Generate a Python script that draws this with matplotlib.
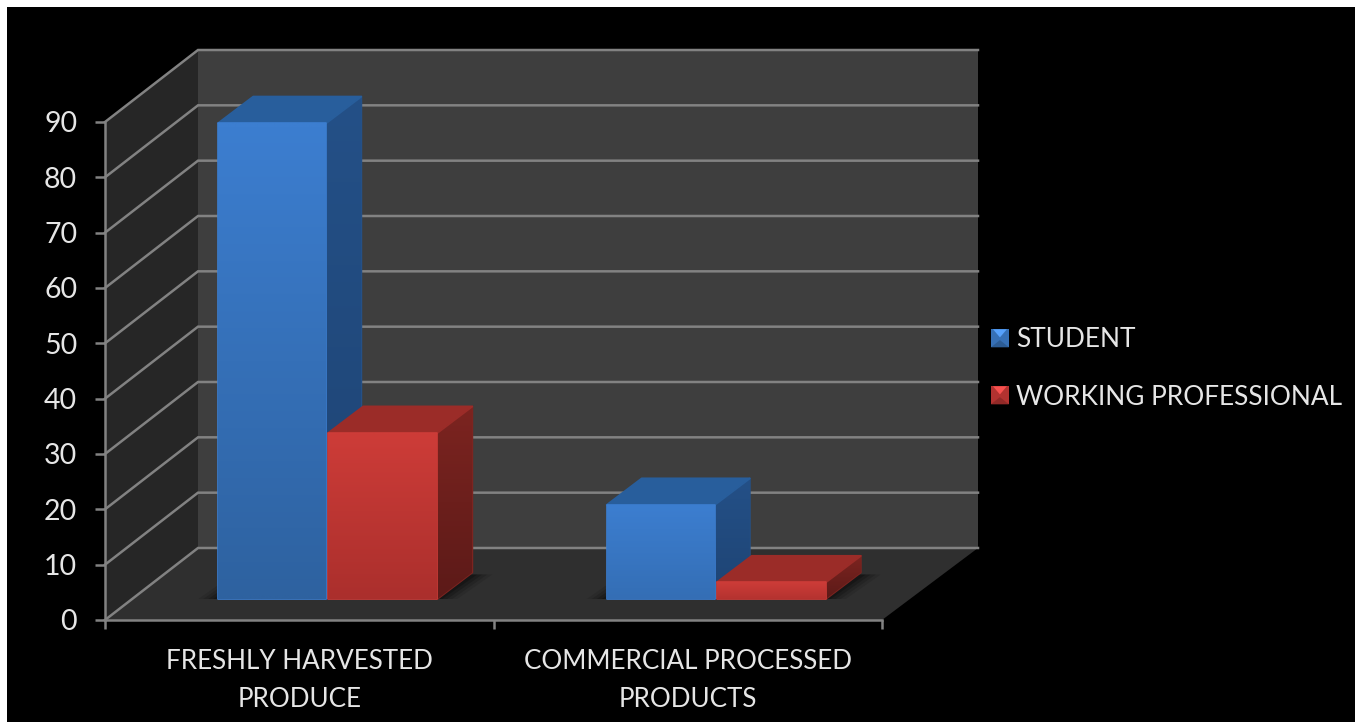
import matplotlib
matplotlib.use("Agg")
import matplotlib.pyplot as plt
import numpy as np
from matplotlib.patches import Polygon, Rectangle
from matplotlib.legend_handler import HandlerBase

categories = ["FRESHLY HARVESTED\nPRODUCE", "COMMERCIAL PROCESSED\nPRODUCTS"]
student = [86, 17]
working_professional = [30, 3]
series_names = ["STUDENT", "WORKING PROFESSIONAL"]
value_ticks = list(range(0, 100, 10))

W, H = 1361, 722
FONT = "Lato"
TEXT = "#e6e6e6"
GRID = "#828282"
plt.rcParams["font.family"] = FONT

fig = plt.figure(figsize=(W / 100, H / 100), dpi=100, facecolor="white")
fig.patches.append(Rectangle((7 / W, 0), (1355 - 7) / W, (H - 7) / H, transform=fig.transFigure,
                             facecolor="black", edgecolor="none", zorder=-10))

# front plane of the chart: x 105..882, value 0 at y=620, value 90 at y=122
L, R, Y0, Y90 = 105, 882, 620, 122
ax = fig.add_axes([L / W, 1 - Y0 / H, (R - L) / W, (Y0 - Y90) / H], facecolor="none")
ax.set_xlim(0, 2)
ax.set_ylim(0, 90)
px_x = 2 / (R - L)          # category units per pixel
px_y = 90 / (Y0 - Y90)      # value units per pixel


def depth(x, y, dx_px, dy_px):
    return (x + dx_px * px_x, y + dy_px * px_y)


WALL_DXL, WALL_DXR, WALL_DY = 93, 96, 72


def poly(verts, color, z, **kw):
    p = Polygon(verts, closed=True, facecolor=color, edgecolor=kw.pop("edgecolor", "none"),
                zorder=z, clip_on=False, **kw)
    ax.add_patch(p)
    return p


def grad_poly(verts, top, bottom, z):
    """Fill a polygon with a vertical linear gradient."""
    verts = np.array(verts)
    x0, x1 = verts[:, 0].min(), verts[:, 0].max()
    y0, y1 = verts[:, 1].min(), verts[:, 1].max()
    t = np.linspace(0, 1, 64)[:, None]
    img = (1 - t) * np.array(top) + t * np.array(bottom)
    img = img[:, None, :]
    im = ax.imshow(img / 255, extent=(x0, x1, y0, y1), origin="upper", aspect="auto",
                   zorder=z, interpolation="bilinear")
    clip = Polygon(verts, closed=True, transform=ax.transData, facecolor="none", edgecolor="none")
    im.set_clip_path(clip)
    im.set_clip_box(fig.bbox)
    return im


# walls and floor
poly([(0, 0), depth(0, 0, WALL_DXL, WALL_DY), depth(0, 90, WALL_DXL, WALL_DY), (0, 90)], "#262626", 1)
poly([depth(0, 0, WALL_DXL, WALL_DY), depth(2, 0, WALL_DXR, WALL_DY),
      depth(2, 90, WALL_DXR, WALL_DY), depth(0, 90, WALL_DXL, WALL_DY)], "#3e3e3e", 1)
poly([(0, 0), (2, 0), depth(2, 0, WALL_DXR, WALL_DY), depth(0, 0, WALL_DXL, WALL_DY)], "#2f2f2f", 1)

for v in value_ticks:
    a = depth(0, v, WALL_DXL, WALL_DY)
    b = depth(2, v, WALL_DXR, WALL_DY)
    ax.plot([0, a[0], b[0]], [v, a[1], b[1]], color=GRID, lw=1.8, zorder=2, clip_on=False,
            solid_joinstyle="miter")

# bars
BAR_W = 110 * px_x
FRONT_DX, FRONT_DY = 28, 21
BAR_DX, BAR_DY = 35, 26.5
BLUE = dict(front=((60, 126, 208), (46, 98, 160)), top=(40, 94, 156),
            side=((36, 80, 135), (30, 68, 116)))
RED = dict(front=((205, 60, 56), (152, 40, 38)), top=(155, 44, 40),
           side=((124, 36, 32), (92, 26, 24)))


def bar3d(center, side, value, st):
    x0 = center + (-BAR_W if side == 0 else 0) + FRONT_DX * px_x + px_x
    x1 = x0 + BAR_W - (2 if side == 0 else 1) * px_x
    b = FRONT_DY * px_y
    t = b + value
    # soft shadow on the floor
    for k, a in zip((20, 15, 10, 5), (0.10, 0.14, 0.18, 0.22)):
        poly([(x0 - k * px_x, b), (x1 + k * px_x, b),
              depth(x1 + k * px_x, b, BAR_DX, BAR_DY - 2),
              depth(x0 - k * px_x, b, BAR_DX, BAR_DY - 2)], "black", 3, alpha=a)
    # short bars only reach the upper part of the gradient
    f = 0.45 + 0.55 * value / 86
    top_c, bot_c = np.array(st["front"][0]), np.array(st["front"][1])
    bot_c = top_c + (bot_c - top_c) * f
    tc = tuple(c / 255 for c in st["top"])
    sc = tuple(c / 255 for c in st["side"][0])
    poly([(x1, b), depth(x1, b, BAR_DX, BAR_DY), depth(x1, t, BAR_DX, BAR_DY), (x1, t)],
         sc, 5, edgecolor=sc, lw=1.4, joinstyle="round")
    grad_poly([(x1, b), depth(x1, b, BAR_DX, BAR_DY), depth(x1, t, BAR_DX, BAR_DY), (x1, t)],
              *st["side"], 5)
    poly([(x0, t), (x1, t), depth(x1, t, BAR_DX, BAR_DY), depth(x0, t, BAR_DX, BAR_DY)],
         tc, 5, edgecolor=tc, lw=1.4, joinstyle="round")
    fc = tuple(top_c / 255)
    poly([(x0, b), (x1, b), (x1, t), (x0, t)], fc, 6, edgecolor=fc, lw=1.2, joinstyle="round")
    grad_poly([(x0, b), (x1, b), (x1, t), (x0, t)], top_c, bot_c, 6)


for i, (s, w) in enumerate(zip(student, working_professional)):
    center = i + 0.5
    bar3d(center, 0, s, BLUE)
    bar3d(center, 1, w, RED)

ax.set_xlim(0, 2)
ax.set_ylim(0, 90)

# axes
for name in ("top", "right"):
    ax.spines[name].set_visible(False)
for name in ("left", "bottom"):
    ax.spines[name].set_color(GRID)
    ax.spines[name].set_linewidth(1.8)
    ax.spines[name].set_zorder(8)
ax.set_yticks(value_ticks)
ax.set_yticklabels([str(v) for v in value_ticks])
ax.tick_params(axis="y", colors=GRID, labelcolor=TEXT, labelsize=20.5, length=7, width=1.8, pad=13)
ax.set_xticks([0, 1, 2])
ax.set_xticklabels(["", "", ""])
ax.tick_params(axis="x", which="major", colors=GRID, length=6.5, width=1.8)
ax.set_xticks([0.5, 1.5], minor=True)
ax.set_xticklabels(categories, minor=True, linespacing=1.62)
ax.tick_params(axis="x", which="minor", length=0, labelcolor=TEXT, labelsize=18.7, pad=21)


# legend with bevelled key squares
class BevelHandler(HandlerBase):
    def create_artists(self, legend, orig, xd, yd, w, h, fontsize, trans):
        c = orig.get_facecolor()
        s = 13
        x0 = -xd + (w - s) / 2
        y0 = -yd + (h - s) / 2
        base = Rectangle((x0, y0), s, s, facecolor=c, edgecolor="none", transform=trans)
        light = tuple(min(1, v * 1.3 + 0.06) for v in c[:3])
        dark = tuple(v * 0.82 for v in c[:3])
        tri = Polygon([(x0 + 1.5, y0 + s), (x0 + s - 1.5, y0 + s), (x0 + s / 2, y0 + s * 0.55)],
                      facecolor=light, edgecolor="none", transform=trans)
        tri2 = Polygon([(x0, y0), (x0 + s, y0), (x0 + s / 2, y0 + s * 0.4)],
                       facecolor=dark, edgecolor="none", transform=trans)
        return [base, tri2, tri]


handles = [Rectangle((0, 0), 1, 1, facecolor=(54 / 255, 112 / 255, 182 / 255)),
           Rectangle((0, 0), 1, 1, facecolor=(178 / 255, 50 / 255, 48 / 255))]
leg = fig.legend(handles, series_names, handler_map={Rectangle: BevelHandler()},
                 loc="center left", bbox_to_anchor=(991 / W, 1 - 368.5 / H), frameon=False,
                 fontsize=18.9, labelcolor=TEXT, labelspacing=1.22, handlelength=0.68,
                 handleheight=0.68, handletextpad=0.28, borderpad=0, borderaxespad=0)

fig.savefig("out.png", dpi=100, facecolor=fig.get_facecolor())
